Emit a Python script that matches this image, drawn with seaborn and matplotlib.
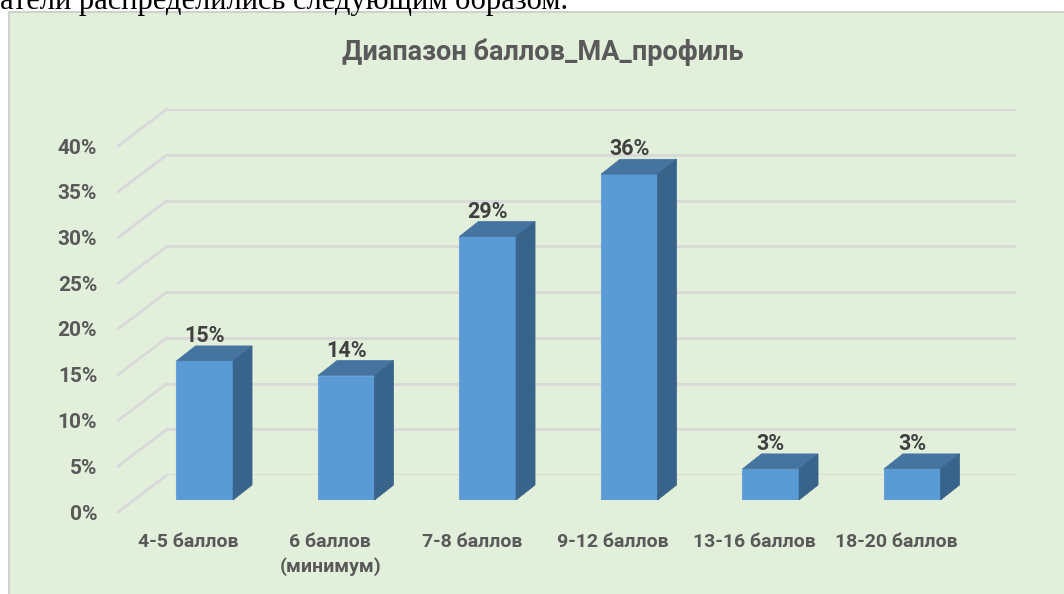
import numpy as np
import pandas as pd
import seaborn as sns
import matplotlib.pyplot as plt
from matplotlib.patches import Polygon, Rectangle, ConnectionPatch

categories = ["4-5 баллов", "6 баллов\n(минимум)", "7-8 баллов",
              "9-12 баллов", "13-16 баллов", "18-20 баллов"]
shares = [15.2, 13.6, 28.8, 35.6, 3.4, 3.4]
ytick_vals = [0, 5, 10, 15, 20, 25, 30, 35, 40]
ytick_labels = [f"{v}%" for v in ytick_vals]
title = "Диапазон баллов_МА_профиль"
above_text = "атели распределились следующим образом."

W, H = 1064, 594
FRONT = "#5B9BD5"
TOP = "#4674A1"
SIDE = "#38638A"
GRID = "#D9D9D9"
TXT = "#595959"
BG = "#E2EFDA"

sns.set_style("white")
plt.rcParams["font.family"] = ["Roboto", "DejaVu Sans"]


def rect(left, base, width, height):
    # pixel box (base = bottom edge measured from top of image) -> figure fraction
    return [left / W, (H - base) / H, width / W, height / H]


fig = plt.figure(figsize=(W / 100, H / 100), dpi=100)
fig.patch.set_facecolor("white")
fig.patches.append(Rectangle((9 / W, -0.1), 1.2, (H - 12) / H + 0.1,
                             transform=fig.transFigure, facecolor=BG,
                             edgecolor="#D0D0D0", linewidth=1.5, zorder=-10))
fig.text(0, 1 - 9 / H, above_text, family=["Liberation Serif", "DejaVu Serif"],
         fontsize=22, color="black", ha="left", va="baseline")

df = pd.DataFrame({"category": categories, "share": shares})
plot_w, plot_h = 849, 366

# back wall with gridlines
back = fig.add_axes(rect(167, 475, plot_w, plot_h))
back.set_ylim(0, 40)
back.set_xlim(0, 1)
back.set_yticks(ytick_vals)
back.set_xticks([])
back.tick_params(length=0, labelleft=False)
back.yaxis.grid(True, color=GRID, linewidth=2)
back.set_facecolor("none")
sns.despine(ax=back, left=True, bottom=True)

# bar plane
ax = fig.add_axes(rect(134, 500, plot_w, plot_h))
sns.barplot(data=df, x="category", y="share", color=FRONT, width=0.4,
            saturation=1, ax=ax, linewidth=0.8, edgecolor="#6AA5DA")
ax.set_xlim(-0.5, 5.5)
ax.set_ylim(0, 40)
ax.set_facecolor("none")
ax.set_xticks([])
ax.set_yticks([])
ax.set_xlabel("")
ax.set_ylabel("")
sns.despine(ax=ax, left=True, bottom=True)

dx = 19 / (plot_w / 6)
dy = 15 / (plot_h / 40)
for bar in ax.patches[:len(shares)]:
    x0 = bar.get_x()
    x1 = x0 + bar.get_width()
    h = bar.get_height()
    ax.add_patch(Polygon([(x0, h), (x1, h), (x1 + dx, h + dy), (x0 + dx, h + dy)],
                         closed=True, facecolor=TOP, edgecolor=TOP, linewidth=0.5,
                         clip_on=False))
    ax.add_patch(Polygon([(x1, 0), (x1, h), (x1 + dx, h + dy), (x1 + dx, dy)],
                         closed=True, facecolor=SIDE, edgecolor=SIDE, linewidth=0.5,
                         clip_on=False))

ax.bar_label(ax.containers[0], labels=[f"{v:.0f}%" for v in shares],
             padding=10, fontsize=15.5, fontweight="bold", color="#404040")

# front plane: tick labels
front = fig.add_axes(rect(118, 512, plot_w, plot_h))
front.set_xlim(-0.5, 5.5)
front.set_ylim(0, 40)
front.set_facecolor("none")
front.set_yticks(ytick_vals, ytick_labels)
front.set_xticks(range(len(categories)), categories)
front.tick_params(length=0, labelcolor=TXT)
front.tick_params(axis="y", pad=15, labelsize=15)
front.tick_params(axis="x", pad=15, labelsize=14)
for lab in front.get_xticklabels() + front.get_yticklabels():
    lab.set_fontweight("bold")
    lab.set_linespacing(1.4)
sns.despine(ax=front, left=True, bottom=True)

# depth lines joining the front labels to the back wall
for v in ytick_vals:
    fig.add_artist(ConnectionPatch(xyA=(0, v), coordsA=front.get_yaxis_transform(),
                                   xyB=(0, v), coordsB=back.get_yaxis_transform(),
                                   color=GRID, linewidth=2, zorder=-5))

fig.text(543 / W, 1 - 52 / H, title, ha="center", va="center", fontsize=19.5,
         fontweight="bold", color=TXT)

fig.savefig("out.png", dpi=100)
